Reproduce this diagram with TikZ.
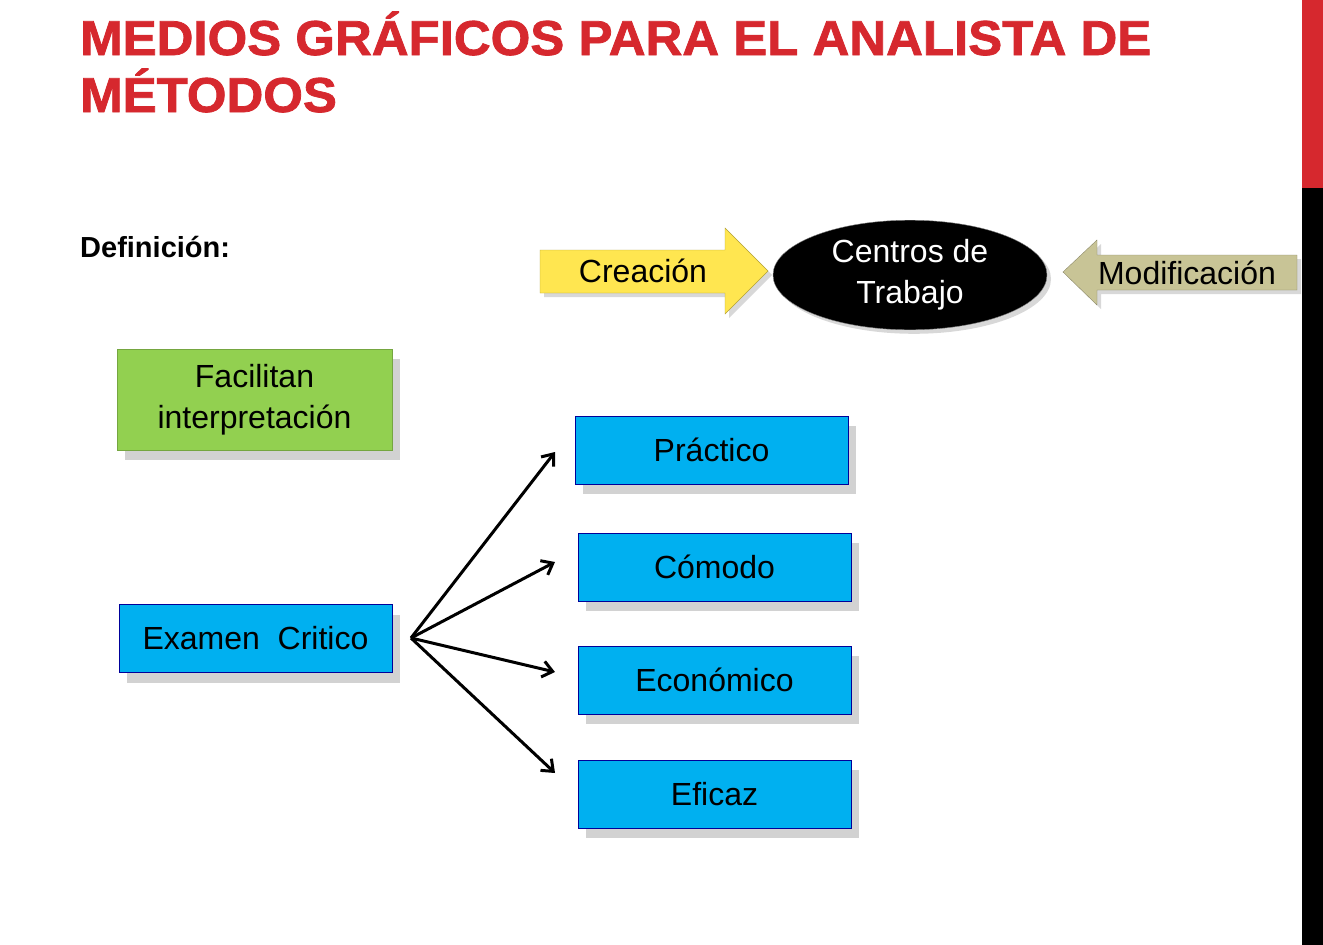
\documentclass[tikz,border=0pt]{standalone}
\usepackage{fontspec}
\setmainfont{Liberation Sans}
\newfontfamily\ttlfont[FakeBold=1.5]{Liberation Sans Bold}
\usetikzlibrary{shapes.geometric,shadows,arrows.meta}
\definecolor{tred}{RGB}{214,40,46}
\definecolor{bluebox}{RGB}{0,176,240}
\definecolor{greenbox}{RGB}{146,208,80}
\definecolor{yel}{RGB}{255,230,80}
\definecolor{khaki}{RGB}{200,196,150}
\tikzset{
 bbox/.style={draw=blue!60!black,fill=bluebox,minimum width=273pt,minimum height=68pt,font=\fontsize{32}{37}\selectfont,align=center,drop shadow={opacity=0.35,shadow xshift=8pt,shadow yshift=-10pt},inner sep=0pt},
 ttl/.style={anchor=base west,text=tred,font=\ttlfont\fontsize{49}{58}\selectfont,inner sep=0pt,xscale=1.04}
}
\begin{document}
\begin{tikzpicture}[x=1pt,y=-1pt]
\fill[white] (0,0) rectangle (1323,945);
\fill[tred] (1302,0) rectangle (1323,188);
\fill[black] (1302,188) rectangle (1323,945);
\node[ttl] (title) at (80,55) {MEDIOS GRÁFICOS PARA EL ANALISTA DE};
\node[ttl] (title2) at (80,112) {MÉTODOS};
\node[anchor=base west,font=\bfseries\fontsize{29}{34}\selectfont,inner sep=0pt] (def) at (80,257) {Definición:};
% Creacion arrow
\path[fill=yel,draw=yel!70!black,drop shadow={opacity=0.3,shadow xshift=4pt,shadow yshift=-4pt}] (540,250) -- (725,250) -- (725,228) -- (768,271) -- (725,314) -- (725,293) -- (540,293) -- cycle;
\node[font=\fontsize{32}{37}\selectfont] (crea) at (643,271) {Creación};
% ellipse
\node[ellipse,fill=black,draw=gray,minimum width=274pt,minimum height=108pt,text=white,font=\fontsize{32}{41}\selectfont,align=center,drop shadow={opacity=0.3,shadow xshift=4pt,shadow yshift=-4pt}] (ct) at (910,275) {Centros de\\Trabajo};
% Modificacion arrow
\path[fill=khaki,draw=khaki!70!black,drop shadow={opacity=0.3,shadow xshift=4pt,shadow yshift=-4pt}] (1297,255) -- (1097,255) -- (1097,240) -- (1063,272) -- (1097,305) -- (1097,290) -- (1297,290) -- cycle;
\node[font=\fontsize{32}{37}\selectfont] (mod) at (1187,273) {Modificación};
% green box
\node[bbox,fill=greenbox,draw=greenbox!80!black,minimum width=275pt,minimum height=101pt,font=\fontsize{32}{41}\selectfont] (fac) at (254.5,399.5) {Facilitan\\interpretación};
\node[bbox] (ex) at (255.5,638.5) {Examen\ \ Critico};
\node[bbox] (p1) at (711.5,450) {Práctico};
\node[bbox] (p2) at (714.5,567) {Cómodo};
\node[bbox] (p3) at (714.5,680) {Económico};
\node[bbox] (p4) at (714.5,794) {Eficaz};
\coordinate (o) at (411,638);
\coordinate (e1) at (555,452);
\coordinate (e2) at (555,562);
\coordinate (e3) at (555,672);
\coordinate (e4) at (555,773);
\foreach \e in {e1,e2,e3,e4} \draw[-{Straight Barb[length=10pt,width=16pt]},line width=3pt] (o) -- (\e);
\end{tikzpicture}
\end{document}
